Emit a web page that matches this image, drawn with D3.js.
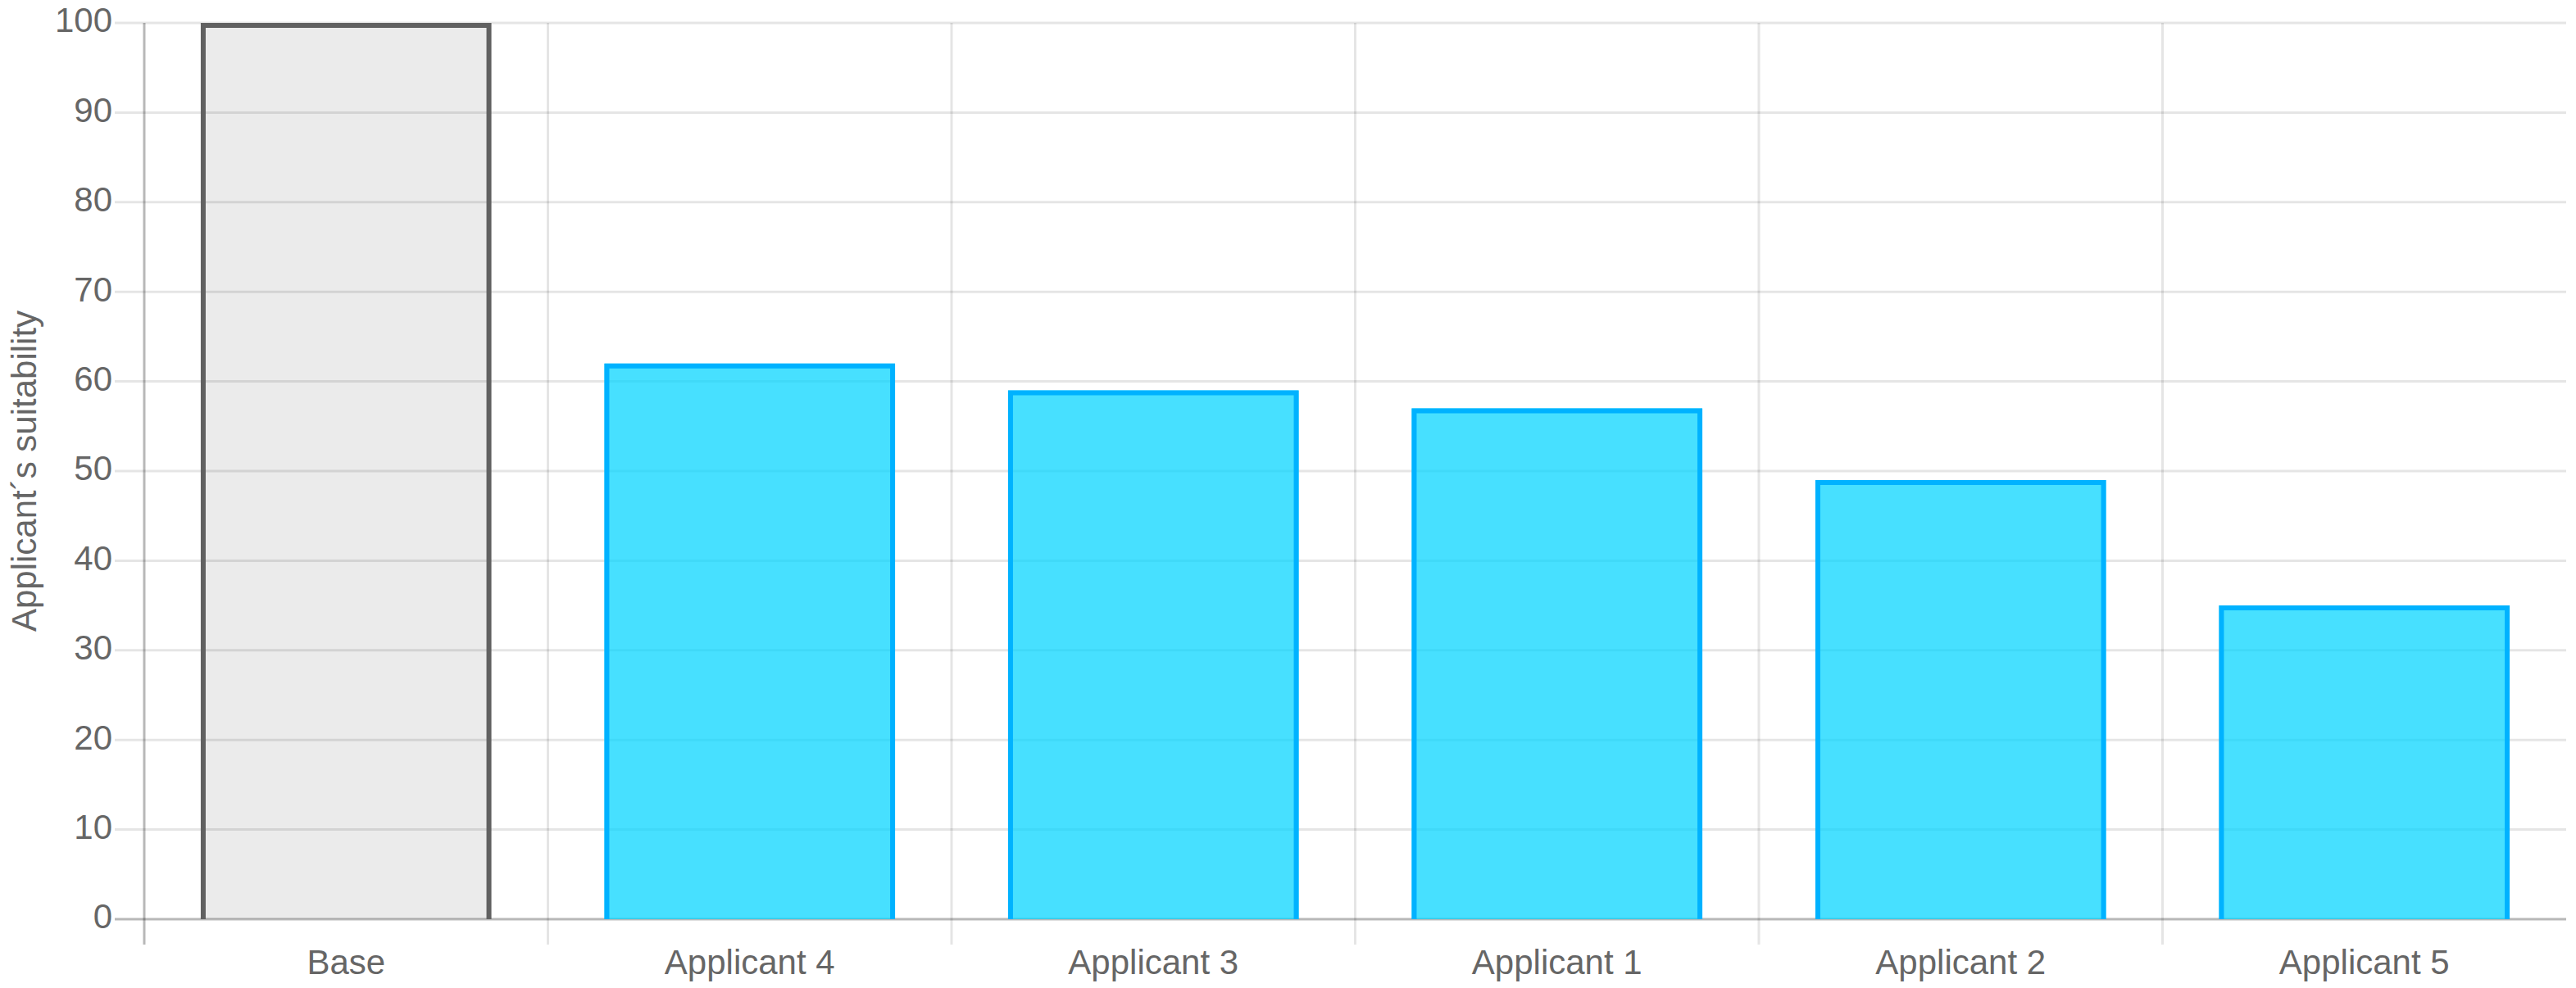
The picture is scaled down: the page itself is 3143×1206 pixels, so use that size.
<!DOCTYPE html>
<html>
<head>
<meta charset="utf-8">
<script src="https://cdn.jsdelivr.net/npm/d3@7"></script>
<style>
    html, body { margin: 0; padding: 0; background: #fff; }
    svg text { font-family: "Liberation Sans", Arial, Helvetica, sans-serif; fill: #666; }
</style>
</head>
<body>
<div class="container"></div>
<script>
const categories = ["Base", "Applicant 4", "Applicant 3", "Applicant 1", "Applicant 2", "Applicant 5"];
const suitability = [100, 62, 59, 57, 49, 35];
const yTicks = [0, 10, 20, 30, 40, 50, 60, 70, 80, 90, 100];
const yTitle = "Applicant´s suitability";

const w = 3143, h = 1206;
const margin = {top: 28, right: 12, bottom: 84, left: 176};
const width = w - margin.left - margin.right;
const height = h - margin.top - margin.bottom;
const tickLen = 31;
const border = 6;

const svg = d3.select('.container')
    .append('svg')
    .attr('width', w)
    .attr('height', h);

const g = svg.append('g')
    .attr('transform', `translate(${margin.left},${margin.top})`);

const x = d3.scaleBand().domain(categories).range([0, width]).paddingInner(0).paddingOuter(0);
const y = d3.scaleLinear().domain([0, 100]).range([height, 0]);

// horizontal grid
g.append('g')
    .selectAll('line')
    .data(yTicks)
    .enter()
    .append('line')
    .attr('x1', -36)
    .attr('x2', width)
    .attr('y1', d => y(d))
    .attr('y2', d => y(d))
    .attr('stroke', d => d === 0 ? 'rgba(0,0,0,0.28)' : 'rgba(0,0,0,0.1)')
    .attr('stroke-width', 3);

// vertical grid (category boundaries)
g.append('g')
    .selectAll('line')
    .data(categories)
    .enter()
    .append('line')
    .attr('x1', d => x(d))
    .attr('x2', d => x(d))
    .attr('y1', 0)
    .attr('y2', height + tickLen)
    .attr('stroke', (d, i) => i === 0 ? 'rgba(0,0,0,0.28)' : 'rgba(0,0,0,0.1)')
    .attr('stroke-width', 3);

// bars
const bw = x.bandwidth() * 0.72;
const bars = g.append('g')
    .selectAll('g')
    .data(categories)
    .enter()
    .append('g');

bars.append('rect')
    .attr('x', d => x(d) + (x.bandwidth() - bw) / 2)
    .attr('y', (d, i) => y(suitability[i]))
    .attr('width', bw)
    .attr('height', (d, i) => y(0) - y(suitability[i]))
    .attr('fill', (d, i) => i === 0 ? 'rgba(0,0,0,0.08)' : 'rgba(0,212,255,0.72)');

bars.append('path')
    .attr('d', (d, i) => {
        const x0 = x(d) + (x.bandwidth() - bw) / 2 + border / 2;
        const x1 = x0 + bw - border;
        const y0 = y(suitability[i]) + border / 2;
        return `M${x0},${y(0)}V${y0}H${x1}V${y(0)}`;
    })
    .attr('fill', 'none')
    .attr('stroke', (d, i) => i === 0 ? '#616161' : '#00b2ff')
    .attr('stroke-width', border);

// axes labels
g.append('g')
    .call(d3.axisLeft(y).tickValues(yTicks).tickSize(0).tickPadding(39))
    .call(a => a.select('.domain').remove())
    .call(a => a.selectAll('text')
        .attr('dy', '0.26em')
        .style('font-size', '42px')
        .style('font-family', null)
        .attr('fill', null));

g.append('g')
    .attr('transform', `translate(0,${height})`)
    .call(d3.axisBottom(x).tickSize(0).tickPadding(37))
    .call(a => a.select('.domain').remove())
    .call(a => a.selectAll('text')
        .style('font-size', '42px')
        .style('font-family', null)
        .attr('fill', null));

svg.append('text')
    .attr('transform', `translate(44,${margin.top + height / 2}) rotate(-90)`)
    .attr('text-anchor', 'middle')
    .style('font-size', '42px')
    .text(yTitle);
</script>
</body>
</html>
